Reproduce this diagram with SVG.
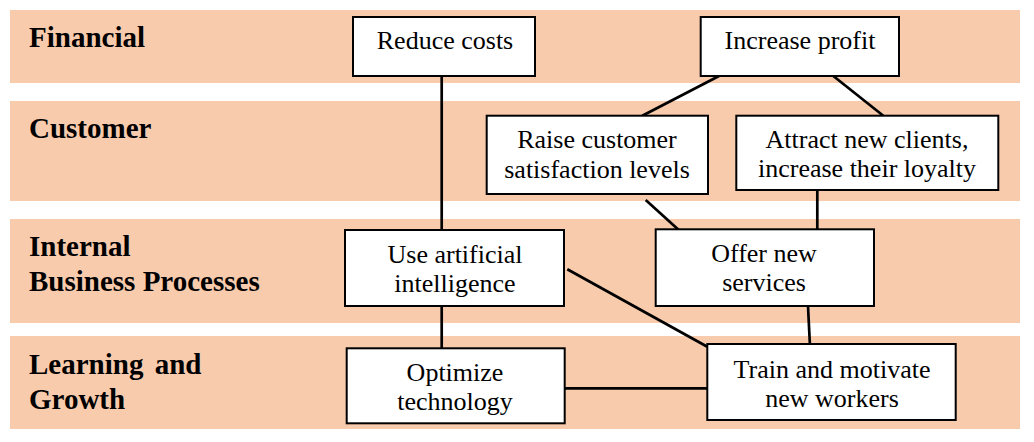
<svg xmlns="http://www.w3.org/2000/svg" width="1034" height="442" viewBox="0 0 1034 442">
<style>
.band{fill:#F8CBAD;}
.lbl{font-family:"Liberation Serif","Times New Roman",serif;font-weight:bold;font-size:29px;fill:#000;}
.box{fill:#fff;stroke:#000;stroke-width:2;}
.t{font-family:"Liberation Serif","Times New Roman",serif;font-size:26px;fill:#000;text-anchor:middle;}
.c{stroke:#000;stroke-width:2.7;fill:none;}
</style>
<rect width="1034" height="442" fill="#fff"/>
<g id="bands">
<rect class="band" x="10" y="10" width="1010" height="73"/>
<rect class="band" x="10" y="101" width="1010" height="100"/>
<rect class="band" x="10" y="219" width="1010" height="104"/>
<rect class="band" x="10" y="336" width="1010" height="93"/>
<text class="lbl" x="29" y="47">Financial</text>
<text class="lbl" x="29" y="138">Customer</text>
<text class="lbl" x="29" y="256">Internal</text>
<text class="lbl" x="29" y="291">Business Processes</text>
<text class="lbl" x="29" y="374" word-spacing="4">Learning and</text>
<text class="lbl" x="29" y="409">Growth</text>
</g>
<g id="connectors">
<line class="c" x1="441.7" y1="76" x2="441.7" y2="230"/>
<line class="c" x1="719" y1="76" x2="642.3" y2="115.7"/>
<line class="c" x1="833.3" y1="76" x2="883.3" y2="115.7"/>
<line class="c" x1="645.7" y1="200" x2="680.7" y2="231.7"/>
<line class="c" x1="817.3" y1="190" x2="817.3" y2="235"/>
<line class="c" x1="441.7" y1="306" x2="441.7" y2="348"/>
<line class="c" x1="567.3" y1="269.3" x2="707.3" y2="346.7"/>
<line class="c" x1="808" y1="306" x2="810" y2="346.7"/>
<line class="c" x1="564.7" y1="388.3" x2="707.3" y2="388.3"/>
</g>
<g id="reduce-costs">
<rect class="box" x="353" y="17" width="182" height="59"/>
<text class="t" x="445" y="49">Reduce costs</text>
</g>
<g id="increase-profit">
<rect class="box" x="700.7" y="17" width="198.3" height="59"/>
<text class="t" x="800" y="49">Increase profit</text>
</g>
<g id="raise-satisfaction">
<rect class="box" x="486.7" y="115.7" width="221.3" height="78.3"/>
<text class="t" x="597" y="148">Raise customer</text>
<text class="t" x="597" y="178">satisfaction levels</text>
</g>
<g id="attract-clients">
<rect class="box" x="736.3" y="115.7" width="262" height="74.3"/>
<text class="t" x="867" y="148">Attract new clients,</text>
<text class="t" x="867" y="177">increase their loyalty</text>
</g>
<g id="use-ai">
<rect class="box" x="345" y="230" width="219" height="76"/>
<text class="t" x="455" y="263">Use artificial</text>
<text class="t" x="455" y="292">intelligence</text>
</g>
<g id="offer-services">
<rect class="box" x="655.7" y="229.3" width="218.3" height="76.7"/>
<text class="t" x="764" y="262">Offer new</text>
<text class="t" x="764" y="291">services</text>
</g>
<g id="optimize-technology">
<rect class="box" x="346.7" y="348.3" width="218" height="75"/>
<text class="t" x="455" y="381">Optimize</text>
<text class="t" x="455" y="410">technology</text>
</g>
<g id="train-workers">
<rect class="box" x="707.3" y="344" width="248.4" height="76"/>
<text class="t" x="832" y="378">Train and motivate</text>
<text class="t" x="832" y="407">new workers</text>
</g>
</svg>
